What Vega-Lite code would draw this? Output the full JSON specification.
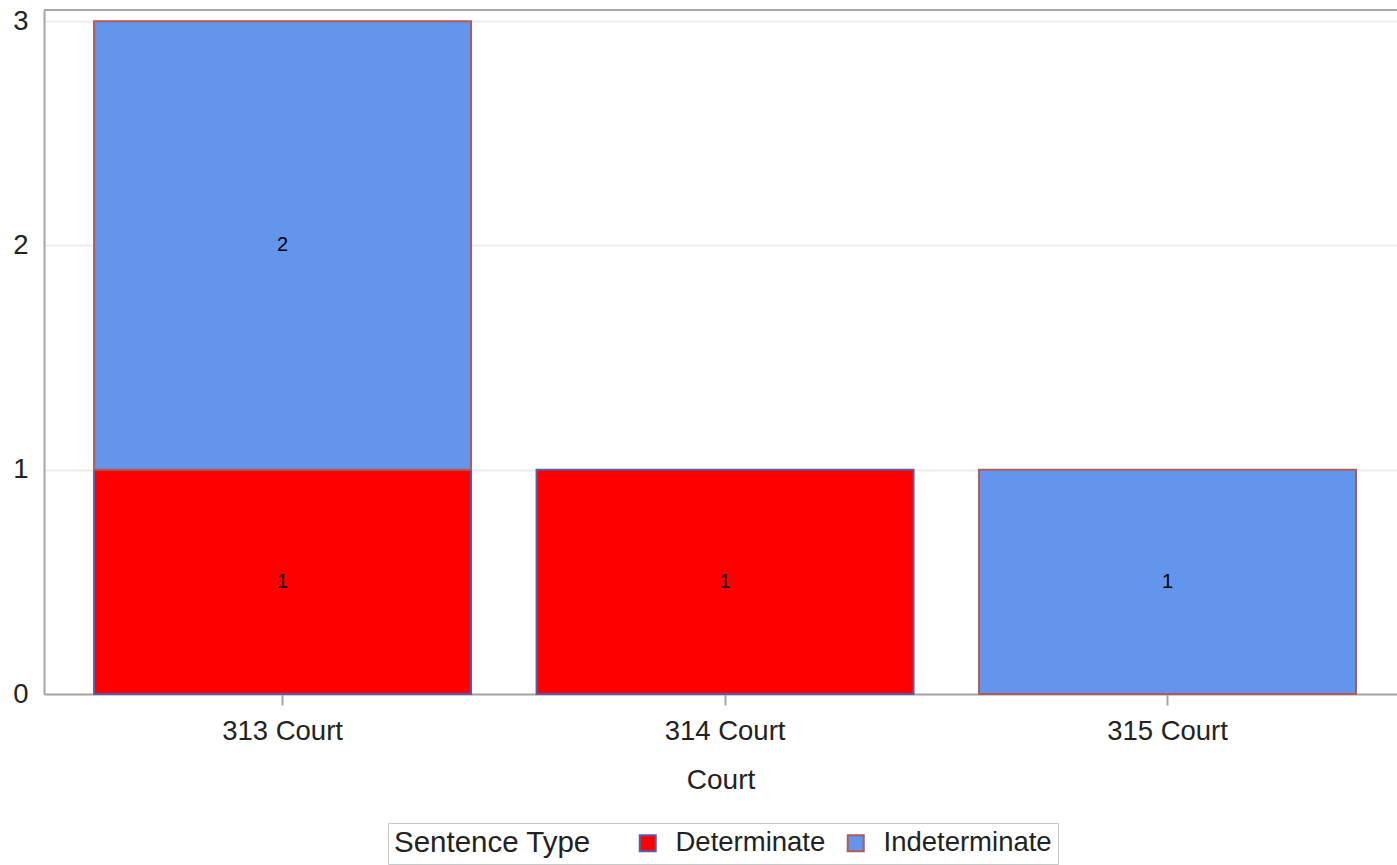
{
  "$schema": "https://vega.github.io/schema/vega-lite/v6.json",
  "autosize": {"type": "none"},
  "width": 1353,
  "height": 684,
  "padding": {"left": 44, "top": 10, "right": 0, "bottom": 171},
  "background": "white",
  "config": {
    "view": {"stroke": null},
    "font": "Liberation Sans",
    "axis": {
      "domainColor": "#a6a6a6",
      "domainWidth": 2,
      "tickColor": "#a6a6a6",
      "tickWidth": 2,
      "labelColor": "#222222",
      "titleColor": "#222222",
      "labelFont": "Liberation Sans",
      "titleFont": "Liberation Sans",
      "titleFontWeight": "normal"
    },
    "legend": {
      "labelFont": "Liberation Sans",
      "titleFont": "Liberation Sans"
    }
  },
  "data": {
    "values": [
      {"Court": "313 Court", "Type": "Determinate", "Count": 1},
      {"Court": "313 Court", "Type": "Indeterminate", "Count": 2},
      {"Court": "314 Court", "Type": "Determinate", "Count": 1},
      {"Court": "315 Court", "Type": "Indeterminate", "Count": 1}
    ]
  },
  "transform": [
    {"stack": "Count", "groupby": ["Court"], "sort": [{"field": "Type", "order": "ascending"}], "as": ["y0", "y1"]},
    {"calculate": "(datum.y0 + datum.y1) / 2", "as": "ymid"}
  ],
  "layer": [
    {
      "mark": {"type": "bar", "strokeWidth": 2},
      "encoding": {
        "x": {
          "field": "Court",
          "type": "nominal",
          "scale": {"paddingInner": 0.148, "paddingOuter": 0.1029, "align": 0.55},
          "axis": {
            "title": "Court",
            "labelAngle": 0,
            "labelFontSize": 27.5,
            "titleFontSize": 28,
            "tickSize": 11,
            "labelPadding": 12,
            "titlePadding": 22,
            "grid": false
          }
        },
        "y": {
          "field": "y1",
          "type": "quantitative",
          "scale": {"domain": [0, 3.05], "nice": false, "zero": true},
          "axis": {
            "title": null,
            "values": [0, 1, 2, 3],
            "format": "d",
            "labelFontSize": 27.5,
            "tickSize": 0,
            "labelPadding": 16,
            "grid": true,
            "gridColor": "#ebebeb",
            "gridWidth": 2
          }
        },
        "y2": {"field": "y0"},
        "fill": {
          "field": "Type",
          "type": "nominal",
          "title": "Sentence Type",
          "scale": {"domain": ["Determinate", "Indeterminate"], "range": ["#ff0000", "#6495ed"]},
          "legend": {
            "orient": "none",
            "legendX": 344,
            "legendY": 813,
            "direction": "horizontal",
            "titleOrient": "left",
            "titleFontSize": 29.5,
            "titleFontWeight": "normal",
            "titleColor": "#222222",
            "titlePadding": 43,
            "titleLimit": 500,
            "labelFontSize": 27.5,
            "labelColor": "#222222",
            "labelOffset": 14,
            "labelLimit": 500,
            "columnPadding": 16,
            "symbolType": "square",
            "symbolSize": 256,
            "symbolStrokeWidth": 2,
            "strokeColor": "#c8c8c8",
            "padding": 6
          }
        },
        "stroke": {
          "field": "Type",
          "type": "nominal",
          "title": "Sentence Type",
          "scale": {"domain": ["Determinate", "Indeterminate"], "range": ["#5a5aa8", "#b05a5a"]}
        }
      }
    },
    {
      "mark": {"type": "text", "fontSize": 20, "color": "#000000", "baseline": "middle", "align": "center"},
      "encoding": {
        "x": {"field": "Court", "type": "nominal"},
        "y": {"field": "ymid", "type": "quantitative"},
        "text": {"field": "Count", "type": "quantitative"}
      }
    },
    {
      "mark": {"type": "rule", "color": "#a6a6a6", "strokeWidth": 2},
      "encoding": {"y": {"datum": 3.05}}
    }
  ]
}
